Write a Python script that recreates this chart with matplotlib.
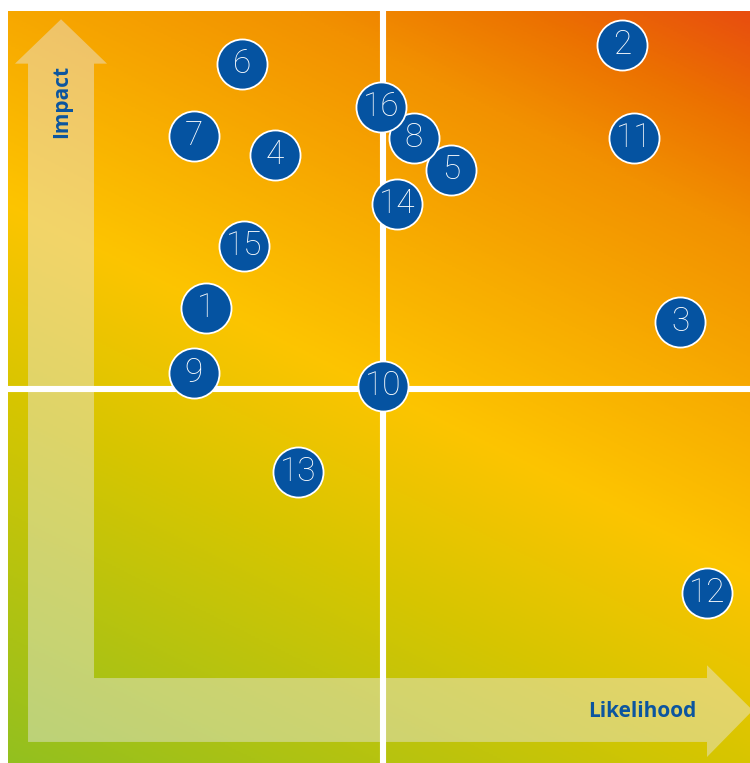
import numpy as np
import matplotlib
matplotlib.use("Agg")
import matplotlib.pyplot as plt
from matplotlib.colors import LinearSegmentedColormap
from matplotlib.patches import Polygon

# ---- data ----
risk_ids = ["1", "2", "3", "4", "5", "6", "7", "8", "9", "10", "11", "12", "13", "14", "15", "16"]
likelihood = [2.64, 8.19, 8.96, 3.56, 5.91, 3.12, 2.48, 5.41, 2.48, 5.00, 8.35, 9.32, 3.87, 5.19, 3.15, 4.97]
impact = [6.05, 9.55, 5.86, 8.09, 7.89, 9.30, 8.34, 8.31, 5.19, 5.01, 8.31, 2.26, 3.87, 7.43, 6.87, 8.72]
x_label = "Likelihood"
y_label = "Impact"

W, H = 750, 763
fig = plt.figure(figsize=(W / 100, H / 100), dpi=100)
fig.patch.set_facecolor("white")

ax = fig.add_axes([8 / W, 0, 750 / W, (H - 11) / H])
ax.set_xlim(0, 10)
ax.set_ylim(0, 10)
ax.axis("off")

# gradient background
cmap = LinearSegmentedColormap.from_list(
    "risk",
    [(0.0, "#93c01f"), (0.33, "#d8c600"), (0.5, "#fdc400"), (0.64, "#f8ad00"),
     (0.8, "#f29100"), (0.9, "#ec7200"), (1.0, "#e84e0f")])
n = 400
xs = np.linspace(0, 1, n)
ys = np.linspace(0, 1, n)
X, Y = np.meshgrid(xs, ys)
vis = 742 / 750
T = 0.33 * np.clip(X / vis, 0, 1) + 0.67 * Y
ax.imshow(T, cmap=cmap, vmin=0, vmax=1, extent=[0, 10, 0, 10], origin="lower",
          aspect="auto", interpolation="bilinear", zorder=0)

# translucent L-shaped double arrow
poly = [
    (0.267, 0.28),
    (0.267, 9.30), (0.093, 9.30), (0.707, 9.89), (1.32, 9.30), (1.147, 9.30),
    (1.147, 1.13), (9.32, 1.13), (9.32, 1.30), (9.93, 0.70), (9.32, 0.08), (9.32, 0.28),
]
ax.add_patch(Polygon(poly, closed=True, facecolor="#e8e8e8", edgecolor="none",
                     alpha=0.45, zorder=1))

# quadrant dividers
ax.axvline(5.0, color="white", lw=4.4, zorder=2)
ax.axhline(4.97, color="white", lw=4.4, zorder=2)

# axis labels
ax.text(0.72, 8.80, y_label, rotation=90, ha="center", va="center", color="#0b559f",
        fontsize=15, fontweight="bold", family="Open Sans", zorder=3)
ax.text(8.45, 0.68, x_label, ha="center", va="center", color="#0b559f",
        fontsize=15, fontweight="bold", family="Open Sans", zorder=3)

# risk circles
ax.scatter(likelihood, impact, s=1300, c="#0553a1", edgecolors="white", linewidths=1.3,
           zorder=4, clip_on=False)
for rid, lx, iy in zip(risk_ids, likelihood, impact):
    ax.text(lx, iy, rid, ha="center", va="center", color="white", fontsize=24,
            fontweight="light", family=["Roboto", "DejaVu Sans"], zorder=5)

fig.savefig("out.png", dpi=100)
